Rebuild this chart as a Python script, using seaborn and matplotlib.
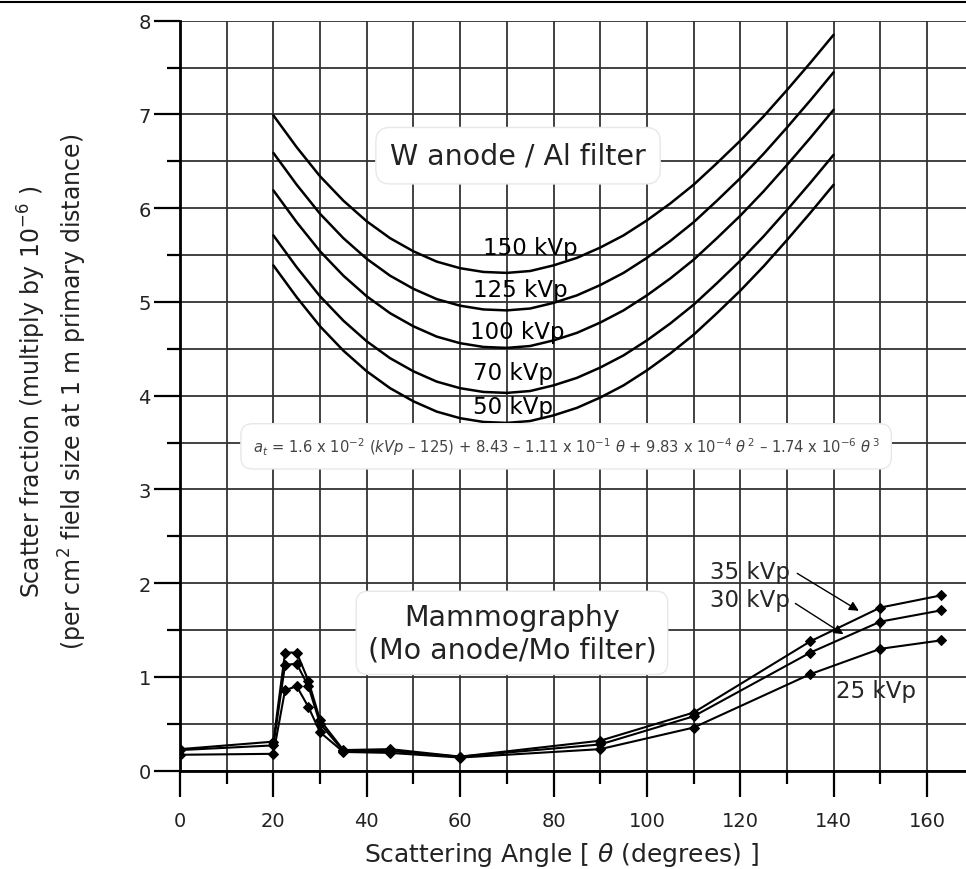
import matplotlib
matplotlib.use("Agg")
import matplotlib.pyplot as plt
from matplotlib.ticker import MultipleLocator
from matplotlib.lines import Line2D
import seaborn as sns
import pandas as pd

# ---------------- data ----------------
theta_w = [20, 25, 30, 35, 40, 45, 50, 55, 60, 65, 70, 75, 80, 85, 90,
           95, 100, 105, 110, 115, 120, 125, 130, 135, 140]
w_150 = [6.99, 6.65, 6.34, 6.08, 5.86, 5.68, 5.54, 5.43, 5.36, 5.32, 5.31, 5.33, 5.39,
         5.47, 5.58, 5.71, 5.87, 6.05, 6.25, 6.48, 6.72, 6.98, 7.26, 7.55, 7.85]
w_125 = [6.59, 6.25, 5.94, 5.68, 5.46, 5.28, 5.14, 5.03, 4.96, 4.92, 4.91, 4.93, 4.99,
         5.07, 5.18, 5.31, 5.47, 5.65, 5.85, 6.08, 6.32, 6.58, 6.86, 7.15, 7.45]
w_100 = [6.19, 5.85, 5.54, 5.28, 5.06, 4.88, 4.74, 4.63, 4.56, 4.52, 4.51, 4.53, 4.59,
         4.67, 4.78, 4.91, 5.07, 5.25, 5.45, 5.68, 5.92, 6.18, 6.46, 6.75, 7.05]
w_70 = [5.71, 5.37, 5.06, 4.80, 4.58, 4.40, 4.26, 4.15, 4.08, 4.04, 4.03, 4.05, 4.11,
        4.19, 4.30, 4.43, 4.59, 4.77, 4.97, 5.20, 5.44, 5.70, 5.98, 6.27, 6.57]
w_50 = [5.39, 5.05, 4.74, 4.48, 4.26, 4.08, 3.94, 3.83, 3.76, 3.72, 3.71, 3.73, 3.79,
        3.87, 3.98, 4.11, 4.27, 4.45, 4.65, 4.88, 5.12, 5.38, 5.66, 5.95, 6.25]
w_labels = ["150 kVp", "125 kVp", "100 kVp", "70 kVp", "50 kVp"]

theta_mammo = [0, 20, 22.5, 25, 27.5, 30, 35, 45, 60, 90, 110, 135, 150, 163]
mo_35 = [0.23, 0.31, 1.26, 1.26, 0.96, 0.54, 0.22, 0.23, 0.15, 0.32, 0.62, 1.38, 1.74, 1.87]
mo_30 = [0.22, 0.27, 1.13, 1.14, 0.90, 0.50, 0.21, 0.21, 0.15, 0.28, 0.58, 1.26, 1.59, 1.71]
mo_25 = [0.17, 0.18, 0.86, 0.90, 0.68, 0.41, 0.20, 0.19, 0.14, 0.23, 0.46, 1.03, 1.30, 1.39]
mo_labels = ["35 kVp", "30 kVp", "25 kVp"]

x_ticks = [0, 20, 40, 60, 80, 100, 120, 140, 160]
y_ticks = [0, 1, 2, 3, 4, 5, 6, 7, 8]

# ---------------- style ----------------
sns.set_theme(style="white")
plt.rcParams["font.family"] = ["DejaVu Sans"]
plt.rcParams["mathtext.fontset"] = "dejavusans"

fig = plt.figure(figsize=(9.66, 8.7), dpi=100)
ax = fig.add_axes([180 / 966, (870 - 771.7) / 870, 786 / 966, 750 / 870])

w_df = pd.DataFrame({
    "theta": theta_w * 5,
    "value": w_150 + w_125 + w_100 + w_70 + w_50,
    "series": sum([[lab] * len(theta_w) for lab in w_labels], []),
})
mo_df = pd.DataFrame({
    "theta": theta_mammo * 3,
    "value": mo_35 + mo_30 + mo_25,
    "series": sum([[lab] * len(theta_mammo) for lab in mo_labels], []),
})

sns.lineplot(data=w_df, x="theta", y="value", units="series", estimator=None,
             color="black", lw=1.8, ax=ax, zorder=4, sort=False)
sns.lineplot(data=mo_df, x="theta", y="value", units="series", estimator=None,
             color="black", lw=1.5, marker="D", markersize=5, markeredgecolor="black",
             ax=ax, zorder=4, sort=False)

ax.set_xlim(0, 168.35)
ax.set_ylim(0, 8)
ax.set_xticks(x_ticks)
ax.set_yticks(y_ticks)
ax.xaxis.set_minor_locator(MultipleLocator(10))
ax.yaxis.set_minor_locator(MultipleLocator(0.5))
ax.set_axisbelow(True)
ax.grid(which="both", color="#333333", lw=1.3)

for s in ["top", "right"]:
    ax.spines[s].set_visible(False)
for s in ["left", "bottom"]:
    ax.spines[s].set_color("black")
    ax.spines[s].set_linewidth(2)

ax.tick_params(which="both", bottom=True, left=True, top=False, right=False)
ax.tick_params(which="major", direction="out", length=19, width=1.6, color="black",
               labelsize=14, labelcolor="#222")
ax.tick_params(which="minor", direction="out", length=9.5, width=1.6, color="black")
ax.tick_params(axis="x", which="major", pad=10)
ax.tick_params(axis="y", which="major", pad=2)

ax.set_xlabel(r"Scattering Angle [ $\theta$ (degrees) ]", fontsize=18, color="#222")
ax.xaxis.set_label_coords((562 - 180) / 786, (771.7 - 855) / 750)
ax.xaxis.label.set_va("center")

ax.set_ylabel("Scatter fraction (multiply by 10$^{-6}$ )\n"
              "(per cm$^{2}$ field size at 1 m primary distance)",
              fontsize=17, color="#222", linespacing=1.35)
ax.yaxis.set_label_coords((52 - 180) / 786, (771.7 - 392) / 750)
ax.yaxis.label.set_va("center")

# W anode labels
w_pos = [(64.9, 5.58), (62.8, 5.13), (62.1, 4.69), (62.8, 4.25), (62.8, 3.89)]
for lab, (xx, yy) in zip(w_labels, w_pos):
    ax.text(xx, yy, lab, fontsize=16.5, ha="left", va="center", color="black", zorder=5)

ax.text(72.4, 6.56, "W anode / Al filter", fontsize=20.5, ha="center", va="center",
        color="#222", zorder=5,
        bbox=dict(boxstyle="round,pad=0.5", fc="white", ec="#e8e8e8", lw=1))

ax.text(82.7, 3.46,
        r"$a_t$ = 1.6 x 10$^{-2}$ ($kVp$ – 125) + 8.43 – 1.11 x 10$^{-1}$ $\theta$ + "
        r"9.83 x 10$^{-4}$ $\theta^{\,2}$ – 1.74 x 10$^{-6}$ $\theta^{\,3}$",
        fontsize=10.6, ha="center", va="center", color="#444", zorder=5,
        bbox=dict(boxstyle="round,pad=0.8", fc="white", ec="#e8e8e8", lw=1))

ax.text(71.1, 1.47, "Mammography\n(Mo anode/Mo filter)", fontsize=20.5, ha="center",
        va="center", color="#222", linespacing=1.2, zorder=5,
        bbox=dict(boxstyle="round,pad=0.4", fc="white", ec="#e8e8e8", lw=1))

# Mammography labels and arrows
ax.text(113.5, 2.13, mo_labels[0], fontsize=16.5, ha="left", va="center", zorder=5)
ax.text(113.5, 1.83, mo_labels[1], fontsize=16.5, ha="left", va="center", zorder=5)
ax.text(140.6, 0.86, mo_labels[2], fontsize=16.5, ha="left", va="center", zorder=5)
ax.annotate("", xy=(145.9, 1.69), xytext=(131.7, 2.12),
            arrowprops=dict(arrowstyle="-|>", color="black", lw=1, mutation_scale=14),
            zorder=5)
ax.annotate("", xy=(142.6, 1.44), xytext=(131.3, 1.80),
            arrowprops=dict(arrowstyle="-|>", color="black", lw=1, mutation_scale=14),
            zorder=5)

fig.add_artist(Line2D([0, 1], [1 - 3 / 870, 1 - 3 / 870], transform=fig.transFigure,
                      color="black", lw=1.5))

fig.savefig("out.png", dpi=100)
